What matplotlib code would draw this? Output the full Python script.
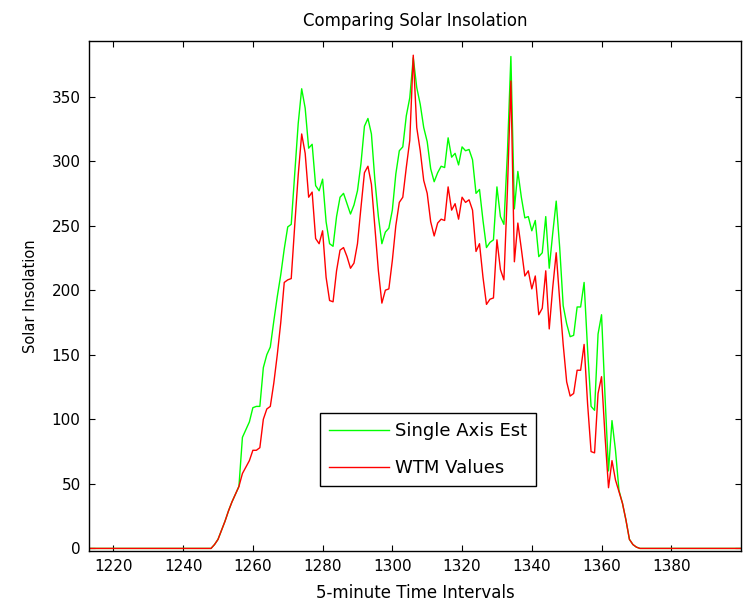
import numpy as np
import matplotlib
matplotlib.use('Agg')
import matplotlib.pyplot as plt

# 5-minute intervals shown on the x axis
intervals = np.arange(1213, 1401)

# values, 1249..1370 (zero before and after)
single_axis_est = [0] * 36 + [
    3, 7, 14, 21, 29, 36, 42, 48, 86, 92,
    98, 109, 110, 110, 140, 150, 156, 176, 195, 212,
    232, 249, 251, 290, 329, 356, 341, 310, 313, 281,
    277, 286, 253, 236, 234, 257, 272, 275, 267, 259,
    266, 277, 298, 327, 333, 321, 285, 257, 236, 245,
    248, 262, 290, 308, 311, 335, 349, 380, 357, 344,
    326, 315, 294, 284, 291, 296, 295, 318, 303, 306,
    297, 311, 308, 309, 301, 275, 278, 254, 233, 237,
    239, 280, 257, 251, 306, 381, 263, 292, 272, 256,
    257, 246, 254, 226, 229, 257, 217, 244, 269, 233,
    188, 174, 164, 165, 187, 187, 206, 154, 110, 107,
    166, 181, 118, 60, 99, 76, 45, 35, 22, 7,
    3, 1] + [0] * 30

wtm_values = [0] * 36 + [
    3, 7, 14, 21, 29, 36, 42, 48, 58, 63,
    68, 76, 76, 78, 100, 108, 110, 128, 150, 175,
    206, 208, 209, 250, 289, 321, 306, 272, 276, 240,
    236, 246, 210, 192, 191, 215, 231, 233, 226, 217,
    221, 236, 264, 291, 296, 282, 249, 215, 190, 200,
    201, 223, 250, 268, 272, 295, 316, 382, 326, 308,
    285, 275, 253, 242, 252, 255, 254, 280, 262, 267,
    255, 272, 268, 270, 262, 230, 236, 210, 189, 193,
    194, 239, 216, 208, 277, 362, 222, 252, 232, 211,
    215, 201, 211, 181, 186, 215, 170, 202, 229, 192,
    158, 129, 118, 120, 138, 138, 158, 112, 75, 74,
    120, 133, 87, 47, 68, 53, 44, 35, 22, 7,
    3, 1] + [0] * 30

x_ticks = list(range(1220, 1381, 20))
y_ticks = list(range(0, 351, 50))

plt.rcParams['font.family'] = ['DejaVu Sans']

fig = plt.figure(figsize=(7.43, 6.02), dpi=100)
ax = fig.add_axes([89 / 743, 51 / 602, 652 / 743, 510 / 602])

ax.plot(intervals, single_axis_est, color='#00ff00', lw=1.0, label='Single Axis Est')
ax.plot(intervals, wtm_values, color='#ff0000', lw=1.0, label='WTM Values')

ax.set_xlim(1213, 1400)
ax.set_ylim(-2, 393)
ax.set_xticks(x_ticks)
ax.set_yticks(y_ticks)
ax.tick_params(direction='in', length=4, width=0.8, top=True, right=True,
               labelsize=11, pad=6)
for s in ax.spines.values():
    s.set_linewidth(1.0)

ax.set_title('Comparing Solar Insolation', fontsize=12, pad=11)
ax.set_xlabel('5-minute Time Intervals', fontsize=12, labelpad=7)
ax.set_ylabel('Solar Insolation', fontsize=10.5, labelpad=10)

leg = ax.legend(loc='upper left', bbox_to_anchor=(320 / 743, 1 - 413 / 602),
                bbox_transform=fig.transFigure, fontsize=13, fancybox=False,
                framealpha=1, edgecolor='black', handlelength=3.3,
                handletextpad=0.33, borderpad=0.5, labelspacing=1.05,
                borderaxespad=0)
leg.get_frame().set_linewidth(1.0)

plt.savefig('out.png', dpi=100)
plt.close()
